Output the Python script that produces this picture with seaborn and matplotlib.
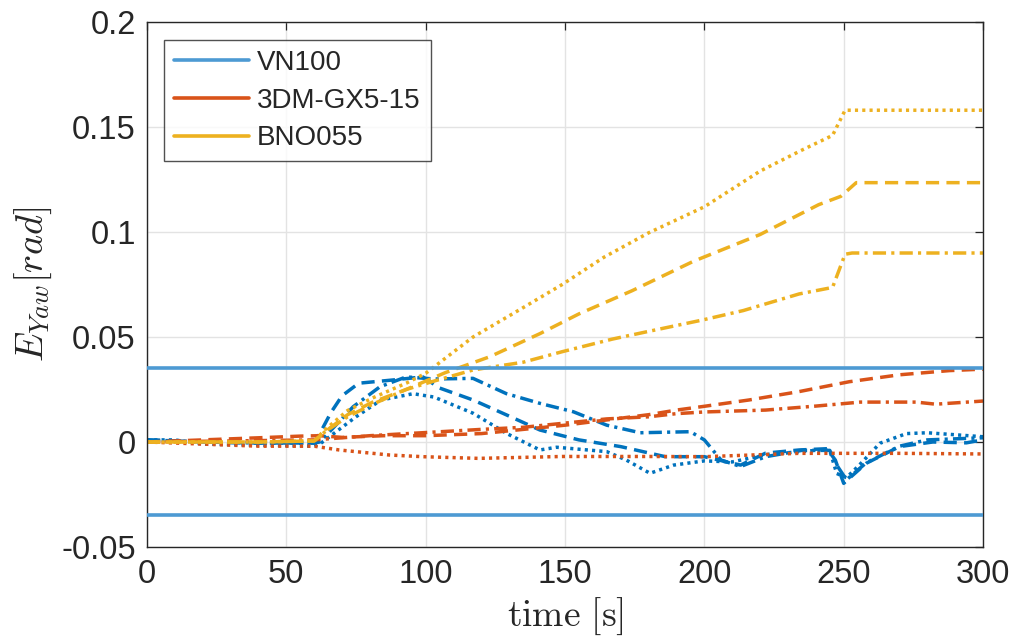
#!/usr/bin/env python3
"""Yaw error of three IMUs against the VN100 bound."""

import matplotlib

matplotlib.use("Agg")
import matplotlib.pyplot as plt
import pandas as pd
import seaborn as sns
from matplotlib.lines import Line2D

BLUE = "#0072BD"
ORANGE = "#D95319"
YELLOW = "#EDB120"
BOUND_COLOR = "#4D9AD3"

BOUND = 0.035
X_TICKS = [0, 50, 100, 150, 200, 250, 300]
Y_TICKS = [-0.05, 0, 0.05, 0.1, 0.15, 0.2]
Y_TICK_LABELS = ["-0.05", "0", "0.05", "0.1", "0.15", "0.2"]
LEGEND_LABELS = ["VN100", "3DM-GX5-15", "BNO055"]

# VN100
vn_dash_t = [0, 20, 40, 60, 62, 66, 70, 76, 88, 99, 105, 117, 129, 141, 155, 170, 186, 200,
             213, 222, 234, 244, 247, 250, 258, 270, 282, 294, 300]
vn_dash_v = [0.001, 0, -0.0005, -0.0005, 0.004, 0.014, 0.022, 0.028, 0.0295, 0.031, 0.0257,
             0.020, 0.0129, 0.0057, 0.001, -0.0022, -0.007, -0.007, -0.011, -0.0053, -0.0038,
             -0.0032, -0.0086, -0.0197, -0.0102, -0.0022, 0.0, -0.0004, 0.001]
vn_dashdot_t = [0, 20, 40, 60, 62, 64.4, 74, 83.6, 93, 103, 117, 129, 141, 153, 165, 177, 195,
                200, 206, 213, 222, 235, 245, 248, 251, 258, 270, 280, 300]
vn_dashdot_v = [0.001, 0, -0.0005, -0.0005, 0, 0.0033, 0.0168, 0.0263, 0.031, 0.030, 0.0303,
                0.023, 0.0184, 0.0144, 0.008, 0.0044, 0.0049, 0.001, -0.0086, -0.0117, -0.007,
                -0.004, -0.004, -0.012, -0.018, -0.010, -0.002, 0.001, 0.002]
vn_dot_t = [0, 10, 20, 40, 60, 62, 67, 75, 84, 95.5, 103, 117, 129, 141, 147, 165, 172, 180.5,
            189, 200, 210, 222, 240, 245, 247.5, 251, 255.6, 263, 272.5, 280, 300]
vn_dot_v = [0.001, 0.001, -0.001, -0.0015, -0.002, -0.001, 0.004, 0.012, 0.020, 0.023, 0.0214,
            0.0137, 0.0041, -0.0038, -0.0025, -0.0046, -0.0086, -0.0149, -0.011, -0.009,
            -0.0095, -0.006, -0.004, -0.004, -0.015, -0.017, -0.011, -0.0006, 0.004, 0.0044,
            0.0025]

# 3DM-GX5-15
gx_dash_t = [0, 20, 40, 55, 62, 70, 85, 100, 120, 135, 150, 165, 180, 190, 200, 216, 234, 252,
             270, 288, 300]
gx_dash_v = [0, 0.001, 0.002, 0.0028, 0.003, 0.0022, 0.003, 0.003, 0.004, 0.006, 0.008, 0.0105,
             0.013, 0.0152, 0.017, 0.020, 0.024, 0.0287, 0.032, 0.034, 0.0347]
gx_dashdot_t = [0, 30, 60, 70, 80, 100, 120, 135, 150, 165, 180, 190, 200, 222, 240, 256, 276,
                283, 300]
gx_dashdot_v = [0, 0.0005, 0.001, 0.002, 0.003, 0.0045, 0.006, 0.007, 0.009, 0.011, 0.012,
                0.0135, 0.0143, 0.0152, 0.0171, 0.019, 0.019, 0.018, 0.0195]
gx_dot_t = [0, 20, 40, 60, 69, 87, 99, 119, 149, 180, 200, 234, 270, 300]
gx_dot_v = [0, -0.001, -0.002, -0.002, -0.0038, -0.0062, -0.007, -0.0078, -0.0069, -0.0069,
            -0.007, -0.0054, -0.0054, -0.0057]

# BNO055
bno_dot_t = [0, 20, 40, 60, 64, 72, 81, 93, 100, 117, 135, 149, 164, 180, 200, 220, 235, 246,
             250.5, 260, 280, 300]
bno_dot_v = [0, 0, 0, 0.0005, 0.006, 0.015, 0.021, 0.028, 0.0327, 0.050, 0.064, 0.075, 0.088,
             0.0996, 0.112, 0.129, 0.139, 0.146, 0.158, 0.158, 0.158, 0.158]
bno_dash_t = [0, 20, 40, 60, 64, 72, 81, 93, 107, 123, 141, 155, 174, 196, 220, 241, 249, 254.5,
              270, 300]
bno_dash_v = [0, 0, 0, 0.0005, 0.005, 0.013, 0.019, 0.025, 0.033, 0.0406, 0.0516, 0.061, 0.072,
              0.086, 0.0988, 0.113, 0.117, 0.1235, 0.1235, 0.1235]
bno_dashdot_t = [0, 20, 40, 60, 64, 72, 81, 93, 103, 117, 135, 149, 167, 179, 199, 214, 234, 246,
                 250.5, 253, 270, 300]
bno_dashdot_v = [0, 0, 0, 0.0005, 0.005, 0.012, 0.018, 0.025, 0.029, 0.0343, 0.038, 0.043, 0.049,
                 0.0524, 0.058, 0.0626, 0.0705, 0.0736, 0.0894, 0.090, 0.090, 0.090]


def build_frame() -> pd.DataFrame:
    series = [
        ("VN100", "dashed", vn_dash_t, vn_dash_v),
        ("VN100", "dashdot", vn_dashdot_t, vn_dashdot_v),
        ("VN100", "dotted", vn_dot_t, vn_dot_v),
        ("3DM-GX5-15", "dashed", gx_dash_t, gx_dash_v),
        ("3DM-GX5-15", "dashdot", gx_dashdot_t, gx_dashdot_v),
        ("3DM-GX5-15", "dotted", gx_dot_t, gx_dot_v),
        ("BNO055", "dotted", bno_dot_t, bno_dot_v),
        ("BNO055", "dashed", bno_dash_t, bno_dash_v),
        ("BNO055", "dashdot", bno_dashdot_t, bno_dashdot_v),
    ]
    frames = []
    for sensor, variant, t, v in series:
        frames.append(pd.DataFrame({"time": t, "err": v, "sensor": sensor,
                                    "variant": variant, "curve": f"{sensor}-{variant}"}))
    return pd.concat(frames, ignore_index=True)


def main() -> None:
    sns.set_theme(style="white")
    plt.rcParams["font.family"] = ["Liberation Sans", "DejaVu Sans"]
    plt.rcParams["mathtext.fontset"] = "cm"

    df = build_frame()
    fig = plt.figure(figsize=(10.15, 6.42), dpi=100)
    ax = fig.add_axes([0.1448, 0.148, 0.8237, 0.8177])

    palette = {"VN100": BLUE, "3DM-GX5-15": ORANGE, "BNO055": YELLOW}
    dashes = {"dashed": (3.8, 2.1), "dashdot": (3.8, 1.5, 0.9, 1.5), "dotted": (0.9, 1.2)}
    for curve, sub in df.groupby("curve", sort=False):
        sns.lineplot(data=sub, x="time", y="err", hue="sensor", style="variant",
                     palette=palette, dashes=dashes, linewidth=2.5, legend=False,
                     estimator=None, sort=False, ax=ax)

    ax.axhline(BOUND, color=BOUND_COLOR, lw=2.6, zorder=3)
    ax.axhline(-BOUND, color=BOUND_COLOR, lw=2.6, zorder=3)

    ax.set_xlim(0, 300)
    ax.set_ylim(-0.05, 0.2)
    ax.set_xticks(X_TICKS)
    ax.set_yticks(Y_TICKS)
    ax.set_yticklabels(Y_TICK_LABELS)
    ax.grid(True, color="#E3E3E3", lw=1.0)
    ax.set_axisbelow(True)
    ax.tick_params(direction="in", length=6, width=0.9, colors="#262626", labelsize=23.5,
                   top=True, right=True, labeltop=False, labelright=False)
    ax.tick_params(axis="x", pad=9)
    ax.tick_params(axis="y", pad=8)
    for spine in ax.spines.values():
        spine.set_color("#262626")
        spine.set_linewidth(1.0)

    ax.set_xlabel(r"$\mathrm{time\ [s]}$", fontsize=27, color="#262626", labelpad=4)
    ax.set_ylabel(r"$E_{Yaw}[rad]$", fontsize=27.5, color="#262626", labelpad=5)

    handles = [Line2D([], [], color=c, lw=2.6) for c in (BOUND_COLOR, ORANGE, YELLOW)]
    leg = ax.legend(handles, LEGEND_LABELS, loc="upper left", bbox_to_anchor=(0.0205, 0.965),
                    fontsize=20, frameon=True, fancybox=False, handlelength=2.7,
                    handletextpad=0.3, borderpad=0.35, labelspacing=0.42, borderaxespad=0)
    leg.get_frame().set_edgecolor("#262626")
    leg.get_frame().set_linewidth(1.0)

    fig.savefig("out.png", dpi=100)
    plt.close(fig)


if __name__ == "__main__":
    main()
